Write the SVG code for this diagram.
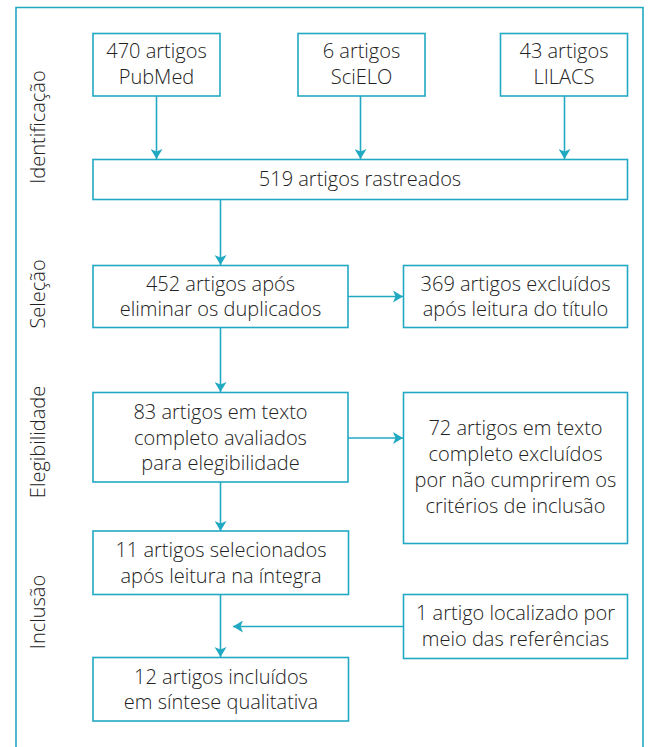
<svg xmlns="http://www.w3.org/2000/svg" width="649" height="747" viewBox="0 0 649 747">
<defs>
<style>
.box{fill:#fff;stroke:#22a9c2;stroke-width:1.6}
.frame{fill:none;stroke:#22a9c2;stroke-width:1.6}
.t{font-family:"Open Sans","Noto Sans","Liberation Sans",sans-serif;font-weight:300;font-size:20px;fill:#222;text-anchor:middle}
.ph{font-family:"Open Sans","Noto Sans","Liberation Sans",sans-serif;font-weight:300;font-size:20px;fill:#222;text-anchor:middle}
.c{fill:none;stroke:#22a9c2;stroke-width:1.6}
</style>
<marker id="ah" markerUnits="userSpaceOnUse" markerWidth="12" markerHeight="12" viewBox="0 0 10 12" refX="10" refY="6" orient="auto">
<path d="M0,0 L10,6 L0,12 L2.5,6 Z" fill="#22a9c2"/>
</marker>
</defs>
<rect width="649" height="747" fill="#fff"/>
<path class="frame" d="M16,760 L16,7.5 L643,7.5 L643,760"/>
<g id="phases">
<text class="ph" transform="translate(45,127) rotate(-90)">Identificação</text>
<text class="ph" transform="translate(45,294) rotate(-90)">Seleção</text>
<text class="ph" transform="translate(45,442) rotate(-90)">Elegibilidade</text>
<text class="ph" transform="translate(45,612) rotate(-90)">Inclusão</text>
</g>
<g id="connectors">
<line class="c" x1="156.5" y1="96" x2="156.5" y2="159" marker-end="url(#ah)"/>
<line class="c" x1="360.5" y1="96" x2="360.5" y2="159" marker-end="url(#ah)"/>
<line class="c" x1="564.5" y1="96" x2="564.5" y2="159" marker-end="url(#ah)"/>
<line class="c" x1="220.5" y1="199" x2="220.5" y2="265" marker-end="url(#ah)"/>
<line class="c" x1="348" y1="296.5" x2="403" y2="296.5" marker-end="url(#ah)"/>
<line class="c" x1="220.5" y1="328" x2="220.5" y2="392" marker-end="url(#ah)"/>
<line class="c" x1="348" y1="438" x2="403" y2="438" marker-end="url(#ah)"/>
<line class="c" x1="220.5" y1="482" x2="220.5" y2="531" marker-end="url(#ah)"/>
<line class="c" x1="220.5" y1="594" x2="220.5" y2="657" marker-end="url(#ah)"/>
<line class="c" x1="403.5" y1="626.5" x2="233" y2="626.5" marker-end="url(#ah)"/>
</g>
<g id="n-pubmed">
<rect class="box" x="93" y="33.5" width="127" height="62.5"/>
<text class="t" x="156.5" y="58">470 artigos</text>
<text class="t" x="156.5" y="83.5">PubMed</text>
</g>
<g id="n-scielo">
<rect class="box" x="298" y="33.5" width="127" height="62.5"/>
<text class="t" x="361.5" y="58">6 artigos</text>
<text class="t" x="361.5" y="83.5">SciELO</text>
</g>
<g id="n-lilacs">
<rect class="box" x="500.5" y="33.5" width="127" height="62.5"/>
<text class="t" x="564" y="58">43 artigos</text>
<text class="t" x="564" y="83.5">LILACS</text>
</g>
<g id="n-519">
<rect class="box" x="93" y="159.5" width="534.5" height="40"/>
<text class="t" x="360" y="186">519 artigos rastreados</text>
</g>
<g id="n-452">
<rect class="box" x="93" y="265.5" width="255" height="62"/>
<text class="t" x="220.5" y="290.5">452 artigos após</text>
<text class="t" x="220.5" y="316">eliminar os duplicados</text>
</g>
<g id="n-369">
<rect class="box" x="403.5" y="265.5" width="224" height="62"/>
<text class="t" x="515.5" y="290.5">369 artigos excluídos</text>
<text class="t" x="515.5" y="316">após leitura do título</text>
</g>
<g id="n-83">
<rect class="box" x="93" y="392.5" width="255" height="89.5"/>
<text class="t" x="220.5" y="419">83 artigos em texto</text>
<text class="t" x="220.5" y="444.5">completo avaliados</text>
<text class="t" x="220.5" y="470">para elegibilidade</text>
</g>
<g id="n-72">
<rect class="box" x="403.5" y="392.5" width="224" height="151"/>
<text class="t" x="515.5" y="434.5">72 artigos em texto</text>
<text class="t" x="515.5" y="460.5">completo excluídos</text>
<text class="t" x="515.5" y="486.5">por não cumprirem os</text>
<text class="t" x="515.5" y="512.5">critérios de inclusão</text>
</g>
<g id="n-11">
<rect class="box" x="93" y="531" width="255.5" height="63.5"/>
<text class="t" x="221" y="557">11 artigos selecionados</text>
<text class="t" x="221" y="582.5">após leitura na íntegra</text>
</g>
<g id="n-1">
<rect class="box" x="403.5" y="594.5" width="224" height="64"/>
<text class="t" x="515.5" y="620">1 artigo localizado por</text>
<text class="t" x="515.5" y="645.5">meio das referências</text>
</g>
<g id="n-12">
<rect class="box" x="93" y="657.5" width="255.5" height="63.5"/>
<text class="t" x="221" y="683.5">12 artigos incluídos</text>
<text class="t" x="221" y="709">em síntese qualitativa</text>
</g>
</svg>
